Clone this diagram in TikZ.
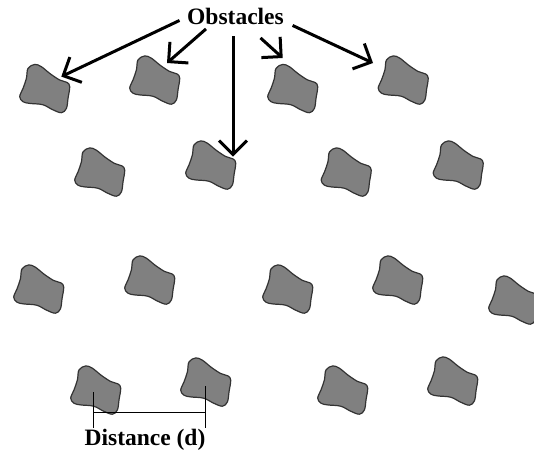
\documentclass[tikz,border=0pt]{standalone}
\usepackage{fontspec}
\setmainfont{Liberation Serif}
\usetikzlibrary{arrows.meta}
\definecolor{obgray}{HTML}{808080}
\definecolor{obedge}{HTML}{333333}
\tikzset{
  obstshape/.style={fill=obgray, draw=obedge, line width=1.2pt, line join=round},
  obstacle/.pic={
    \coordinate (-c) at (0,0);
    \path[obstshape] plot[smooth cycle, tension=0.6] coordinates {
      (-10.3,-24.1) (-3.6,-21.8) (4.7,-15.1) (14.7,-8.5) (22,-6.1) (24.7,-1.8)
      (23,9.9) (21.4,19.9) (16.4,24.2) (7.7,21.2) (-2.3,16.2) (-15.3,14.9)
      (-22,13.2) (-25.3,8.2) (-22,-0.1) (-18.6,-10.1) (-17,-20.1)};
  }
}
\begin{document}
\begin{tikzpicture}[x=1pt,y=-1pt,
  arr/.style={line width=3pt, -{Straight Barb[length=14pt,width=28pt]}},
  lbl/.style={font=\fontsize{23.5}{26}\selectfont\bfseries, inner sep=4pt},
  measureline/.style={line width=0.9pt, draw=black}]
\useasboundingbox (0,0) rectangle (534,456);
\fill[white] (0,0) rectangle (534,456);
\begin{scope}
\clip (0,0) rectangle (534,456);
% row 1
\pic (o11) at (45,88.5) {obstacle};
\pic (o12) at (155,80) {obstacle};
\pic (o13) at (293,88.5) {obstacle};
\pic (o14) at (403.5,80) {obstacle};
% row 2
\pic (o21) at (100,172) {obstacle};
\pic (o22) at (211,165) {obstacle};
\pic (o23) at (346.5,172) {obstacle};
\pic (o24) at (458.5,165) {obstacle};
% row 3
\pic (o31) at (39,289) {obstacle};
\pic (o32) at (150,280) {obstacle};
\pic (o33) at (288,289) {obstacle};
\pic (o34) at (398,280) {obstacle};
\pic (o35) at (514,300) {obstacle};
% row 4
\pic (o41) at (96,390) {obstacle};
\pic (o42) at (206,382) {obstacle};
\pic (o43) at (343,390) {obstacle};
\pic (o44) at (453,381) {obstacle};
\end{scope}

\node[lbl, anchor=base] (obs) at (235.5,24.5) {Obstacles};
\coordinate (t1) at (61.3,76.6);
\coordinate (t2) at (167,63);
\coordinate (t3) at (233,156.7);
\coordinate (t4) at (282.7,58);
\coordinate (t5) at (373,63);
\draw[arr] ([xshift=-3.5pt,yshift=-4pt]obs.west) -- (t1);
\draw[arr] ([xshift=-29.5pt]obs.south) -- (t2);
\draw[arr] ([xshift=-2.5pt,yshift=-7.5pt]obs.south) -- (t3);
\draw[arr] ([xshift=25pt,yshift=-9pt]obs.south) -- (t4);
\draw[arr] ([xshift=4.6pt,yshift=-9pt]obs.east) -- (t5);

% distance marker
\coordinate (dtop1) at (93,392);
\coordinate (dbot1) at (93,428);
\coordinate (dtop2) at (205,386);
\coordinate (dbot2) at (205,428);
\coordinate (hy) at (0,412);
\draw[measureline] (dtop1) -- (dbot1);
\draw[measureline] (dtop2) -- (dbot2);
\draw[measureline] (dtop1 |- hy) -- (dtop2 |- hy);
\node[lbl, anchor=base] (dist) at (145,445) {Distance (d)};
\end{tikzpicture}
\end{document}
